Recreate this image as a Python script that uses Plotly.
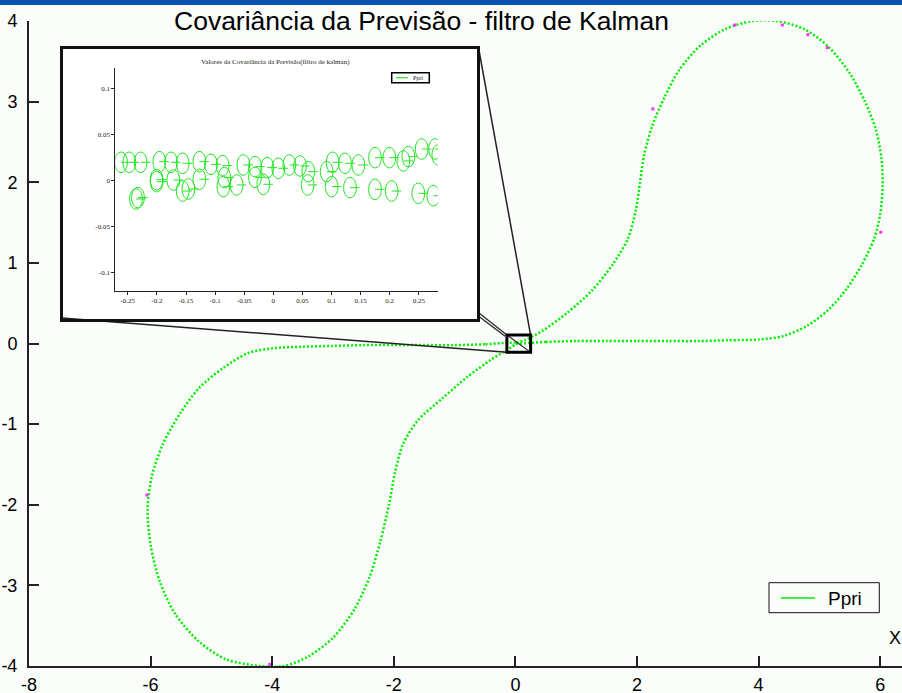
import plotly.graph_objects as go

# ---------------- data ----------------
# main trajectory
x_upper = [0.0, 0.5, 1.0, 1.5, 2.0, 2.5, 3.0, 3.5, 4.0, 4.4, 4.8, 5.15, 5.45, 5.7, 5.9, 6.0,
           6.04, 6.02, 5.93, 5.75, 5.5, 5.15, 4.75, 4.3, 3.9, 3.45, 3.05, 2.7, 2.45, 2.25,
           2.12, 2.05, 1.98, 1.85, 1.6, 1.25, 0.85, 0.45, 0.15, 0.0]
y_upper = [0.0, 0.02, 0.03, 0.03, 0.03, 0.03, 0.03, 0.04, 0.05, 0.09, 0.22, 0.42, 0.68, 0.98,
           1.3, 1.6, 1.95, 2.3, 2.65, 3.0, 3.35, 3.68, 3.9, 4.0, 4.0, 3.9, 3.7, 3.4, 3.05, 2.7,
           2.35, 2.0, 1.65, 1.3, 0.98, 0.65, 0.38, 0.16, 0.04, 0.0]
x_lower = [0.0, -0.5, -1.0, -1.5, -2.0, -2.5, -3.0, -3.5, -4.0, -4.4, -4.8, -5.2, -5.5, -5.8,
           -5.98, -6.05, -6.0, -5.85, -5.6, -5.2, -4.75, -4.2, -3.8, -3.4, -3.0, -2.65, -2.4,
           -2.22, -2.08, -1.98, -1.85, -1.6, -1.2, -0.8, -0.4, 0.0]
y_lower = [0.0, -0.01, -0.02, -0.02, -0.02, -0.02, -0.03, -0.04, -0.06, -0.12, -0.3, -0.55,
           -0.85, -1.25, -1.65, -2.05, -2.5, -2.95, -3.35, -3.7, -3.92, -4.0, -4.0, -3.88,
           -3.65, -3.3, -2.9, -2.45, -2.0, -1.6, -1.25, -0.95, -0.68, -0.42, -0.2, 0.0]
# occasional magenta dots on the trajectory
x_magenta = [3.61, 4.39, 4.81, 5.13, 2.26, 6.01, -6.06, -4.04]
y_magenta = [3.95, 3.95, 3.83, 3.67, 2.91, 1.38, -1.88, -3.98]

series_name = "Ppri"
main_title = "Covariância da Previsão - filtro de Kalman"
inset_title = "Valores da Covariância da Previsão(filtro de kalman)"

x_ticks = [-8, -6, -4, -2, 0, 2, 4, 6]
x_ticktext = ["-8", "-6", "-4", "-2", "0", "2", "4", "6"]
y_ticks = [-4, -3, -2, -1, 0, 1, 2, 3, 4]
y_ticktext = ["-4", "-3", "-2", "-1", "0", "1", "2", "3", "4"]

# inset: covariance ellipse centres
ell_x = [-0.2617, -0.2474, -0.2280, -0.1959, -0.1758, -0.1558, -0.1271, -0.1071, -0.0871,
         -0.0515, -0.0315, -0.0103, 0.0086, 0.0275, 0.0458, 0.0601, 0.0916, 0.1019, 0.1231,
         0.1460, 0.1747, 0.1993, 0.2234, 0.2320, 0.2549, 0.2778, 0.2835,
         -0.2360, -0.2325, -0.2005, -0.2005, -0.1718, -0.1558, -0.1460, -0.1271, -0.0842,
         -0.0859, -0.0630, -0.0315, -0.0172, 0.0590, 0.1002, 0.1317, 0.1747, 0.2033, 0.2491,
         0.2749]
ell_y = [0.0200, 0.0200, 0.0200, 0.0207, 0.0200, 0.0189, 0.0207, 0.0178, 0.0164,
         0.0171, 0.0153, 0.0142, 0.0135, 0.0171, 0.0160, 0.0098, 0.0098, 0.0200, 0.0189,
         0.0171, 0.0251, 0.0251, 0.0215, 0.0262, 0.0345, 0.0345, 0.0280,
         -0.0200, -0.0185, 0.0011, -0.0011, 0.0007, -0.0113, -0.0091, 0.0015, 0.0033,
         -0.0065, -0.0047, 0.0036, -0.0040, -0.0047, -0.0065, -0.0076, -0.0095, -0.0113,
         -0.0138, -0.0164]
ell_rx = 0.0110
ell_ry = 0.0113

inset_x_ticks = [-0.25, -0.2, -0.15, -0.1, -0.05, 0, 0.05, 0.1, 0.15, 0.2, 0.25]
inset_x_ticktext = ["-0.25", "-0.2", "-0.15", "-0.1", "-0.05", "0", "0.05", "0.1", "0.15", "0.2", "0.25"]
inset_y_ticks = [-0.1, -0.05, 0, 0.05, 0.1]
inset_y_ticktext = ["-0.1", "-0.05", "0", "0.05", "0.1"]

# zoom box around origin (data coords of main axes)
zoom_box = [-0.14, 0.25, -0.11, 0.105]

# ---------------- layout geometry ----------------
W, H = 902, 693
ML, MR, MT, MB = 29, 0, 21, 27
PW, PH = W - ML - MR, H - MT - MB
X_RANGE = [-8, -8 + PW / 60.8]
Y_RANGE = [-4, 4]
INSET_X_RANGE = [-0.2715, 0.2824]
INSET_Y_RANGE = [-0.12, 0.1225]

GREEN = "#00ee00"
INSET_GREEN = "#22e622"
BG = "#fbfdfb"
FONT = "Liberation Sans, Arial, sans-serif"
SERIF = "Liberation Serif, Times New Roman, serif"


def pp(px, py):
    """pixel -> paper coordinates"""
    return (px - ML) / PW, (H - MB - py) / PH


def dp(x, y):
    """main data -> paper coordinates"""
    return ((x - X_RANGE[0]) / (X_RANGE[1] - X_RANGE[0]),
            (y - Y_RANGE[0]) / (Y_RANGE[1] - Y_RANGE[0]))


fig = go.Figure()

dot_line = dict(color=GREEN, width=2.5, dash="2px,2px", shape="spline", smoothing=0.8)
fig.add_trace(go.Scatter(x=x_upper, y=y_upper, mode="lines", line=dot_line, name=series_name,
                         showlegend=False, hoverinfo="skip"))
fig.add_trace(go.Scatter(x=x_lower, y=y_lower, mode="lines", line=dot_line, name=series_name,
                         showlegend=False, hoverinfo="skip"))
fig.add_trace(go.Scatter(x=x_magenta, y=y_magenta, mode="markers",
                         marker=dict(color="#ff33ff", size=3, symbol="square"),
                         showlegend=False, hoverinfo="skip"))

# inset: radius segments of each ellipse
seg_x, seg_y = [], []
for cx, cy in zip(ell_x, ell_y):
    seg_x += [cx, cx + 1.5 * ell_rx, None]
    seg_y += [cy, cy, None]
fig.add_trace(go.Scatter(x=seg_x, y=seg_y, xaxis="x2", yaxis="y2", mode="lines",
                         line=dict(color=INSET_GREEN, width=1), showlegend=False,
                         hoverinfo="skip"))

shapes = []
# inset white background + frame
ix0, iy0 = pp(61.5, 47.5)
ix1, iy1 = pp(478.5, 320.5)
shapes.append(dict(type="rect", xref="paper", yref="paper", x0=ix0, y0=iy1, x1=ix1, y1=iy0,
                   fillcolor="white", line=dict(width=0), layer="below"))


def seg(p0, p1, width=1.5, color="#222"):
    (x0, y0), (x1, y1) = p0, p1
    shapes.append(dict(type="line", xref="paper", yref="paper", x0=x0, y0=y0, x1=x1, y1=y1,
                       line=dict(color=color, width=width), layer="above"))


zx0, zy0 = dp(zoom_box[0], zoom_box[2])
zx1, zy1 = dp(zoom_box[1], zoom_box[3])
seg(pp(478.5, 47.5), (zx1, zy1))
seg(pp(479, 313), (zx0, zy1), width=1.2)
seg(pp(479, 316.5), (zx0 - 0.002, zy1 - 0.002), width=1.2)
seg(pp(62, 318), (zx0, zy0))
seg((zx0, zy1), (zx1, zy0), width=1.2)
shapes.append(dict(type="rect", xref="paper", yref="paper", x0=zx0, y0=zy0, x1=zx1, y1=zy1,
                   line=dict(color="black", width=3), layer="above"))
shapes.append(dict(type="rect", xref="paper", yref="paper", x0=ix0, y0=iy1, x1=ix1, y1=iy0,
                   line=dict(color="#111", width=3), layer="above"))

# inset ellipses
for cx, cy in zip(ell_x, ell_y):
    shapes.append(dict(type="circle", xref="x2", yref="y2", x0=cx - ell_rx, x1=cx + ell_rx,
                       y0=cy - ell_ry, y1=cy + ell_ry, line=dict(color=INSET_GREEN, width=1)))

# inset legend (tiny)
lx0, ly0 = pp(391.7, 72.7)
lx1, ly1 = pp(429.3, 82.7)
shapes.append(dict(type="rect", xref="paper", yref="paper", x0=lx0, y0=ly1, x1=lx1, y1=ly0,
                   line=dict(color="black", width=1.5), fillcolor="white"))
a0, a1 = pp(396, 77.7), pp(408, 77.7)
shapes.append(dict(type="line", xref="paper", yref="paper", x0=a0[0], y0=a0[1], x1=a1[0], y1=a1[1],
                   line=dict(color=INSET_GREEN, width=1.2)))

# main legend
mx0, my0 = pp(769, 582.7)
mx1, my1 = pp(879.3, 612.7)
shapes.append(dict(type="rect", xref="paper", yref="paper", x0=mx0, y0=my1, x1=mx1, y1=my0,
                   line=dict(color="#111", width=1)))
m0, m1 = pp(781, 598), pp(815, 598)
shapes.append(dict(type="line", xref="paper", yref="paper", x0=m0[0], y0=m0[1], x1=m1[0], y1=m1[1],
                   line=dict(color=GREEN, width=1.5)))

# top window bar
b0, b1 = pp(-2, -10), pp(W + 2, 5)
shapes.append(dict(type="rect", xref="paper", yref="paper", x0=b0[0], y0=b1[1], x1=b1[0], y1=b0[1],
                   fillcolor="#0a52b0", line=dict(width=0), layer="above"))

annotations = []
tx, ty = pp(421.5, 21)
annotations.append(dict(text=main_title, xref="paper", yref="paper", x=tx, y=ty,
                        showarrow=False, font=dict(family=FONT, size=26.5, color="black"),
                        xanchor="center", yanchor="middle"))
tx, ty = pp(275, 61.7)
annotations.append(dict(text=inset_title, xref="paper", yref="paper", x=tx, y=ty,
                        showarrow=False, font=dict(family=SERIF, size=7, color="#222"),
                        xanchor="center", yanchor="middle"))
lt = pp(411, 77.7)
annotations.append(dict(text=series_name, xref="paper", yref="paper", x=lt[0], y=lt[1],
                        showarrow=False, font=dict(family=SERIF, size=6, color="#222"),
                        xanchor="left", yanchor="middle"))
lt = pp(826, 598)
annotations.append(dict(text=series_name, xref="paper", yref="paper", x=lt[0], y=lt[1],
                        showarrow=False, font=dict(family=FONT, size=19, color="black"),
                        xanchor="left", yanchor="middle"))
xl = pp(887, 637.5)
annotations.append(dict(text="X", xref="paper", yref="paper", x=xl[0], y=xl[1],
                        showarrow=False, font=dict(family=FONT, size=18, color="black"),
                        xanchor="left", yanchor="middle"))

fig.update_layout(
    width=W, height=H,
    margin=dict(l=ML, r=MR, t=MT, b=MB, pad=0, autoexpand=False),
    paper_bgcolor=BG,
    plot_bgcolor="rgba(0,0,0,0)",
    font=dict(family=FONT, color="black"),
    showlegend=False,
    xaxis=dict(range=X_RANGE, domain=[0, 1], showgrid=False, zeroline=False, automargin=False,
               showline=True, linecolor="#222", linewidth=2,
               ticks="inside", ticklen=10, tickwidth=1.5, tickcolor="#222",
               tickvals=x_ticks, ticktext=x_ticktext, ticklabelstandoff=1,
               tickfont=dict(family=FONT, size=18, color="black")),
    yaxis=dict(range=Y_RANGE, domain=[0, 1], showgrid=False, zeroline=False, automargin=False,
               showline=True, linecolor="#222", linewidth=2,
               ticks="inside", ticklen=10, tickwidth=1.5, tickcolor="#222",
               tickvals=y_ticks, ticktext=y_ticktext, ticklabelstandoff=6,
               tickfont=dict(family=FONT, size=18, color="black")),
    xaxis2=dict(range=INSET_X_RANGE, domain=[pp(115.3, 0)[0], pp(437.7, 0)[0]], anchor="y2",
                automargin=False,
                showgrid=False, zeroline=False, showline=True, linecolor="#222", linewidth=1,
                ticks="outside", ticklen=3, tickwidth=1, tickcolor="#222",
                tickvals=inset_x_ticks, ticktext=inset_x_ticktext,
                tickfont=dict(family=SERIF, size=7, color="#222")),
    yaxis2=dict(range=INSET_Y_RANGE, domain=[pp(0, 290.7)[1], pp(0, 68.3)[1]], anchor="x2",
                automargin=False,
                showgrid=False, zeroline=False, showline=True, linecolor="#222", linewidth=1,
                ticks="outside", ticklen=3, tickwidth=1, tickcolor="#222",
                tickvals=inset_y_ticks, ticktext=inset_y_ticktext,
                tickfont=dict(family=SERIF, size=7, color="#222")),
    shapes=shapes,
    annotations=annotations,
)

fig.write_html("out.html",
               config={"displayModeBar": False},
               post_script="document.documentElement.style.margin='0px';"
                           "document.body.style.margin='0px';document.body.style.padding='0px';"
                           "document.body.style.overflow='hidden';")
